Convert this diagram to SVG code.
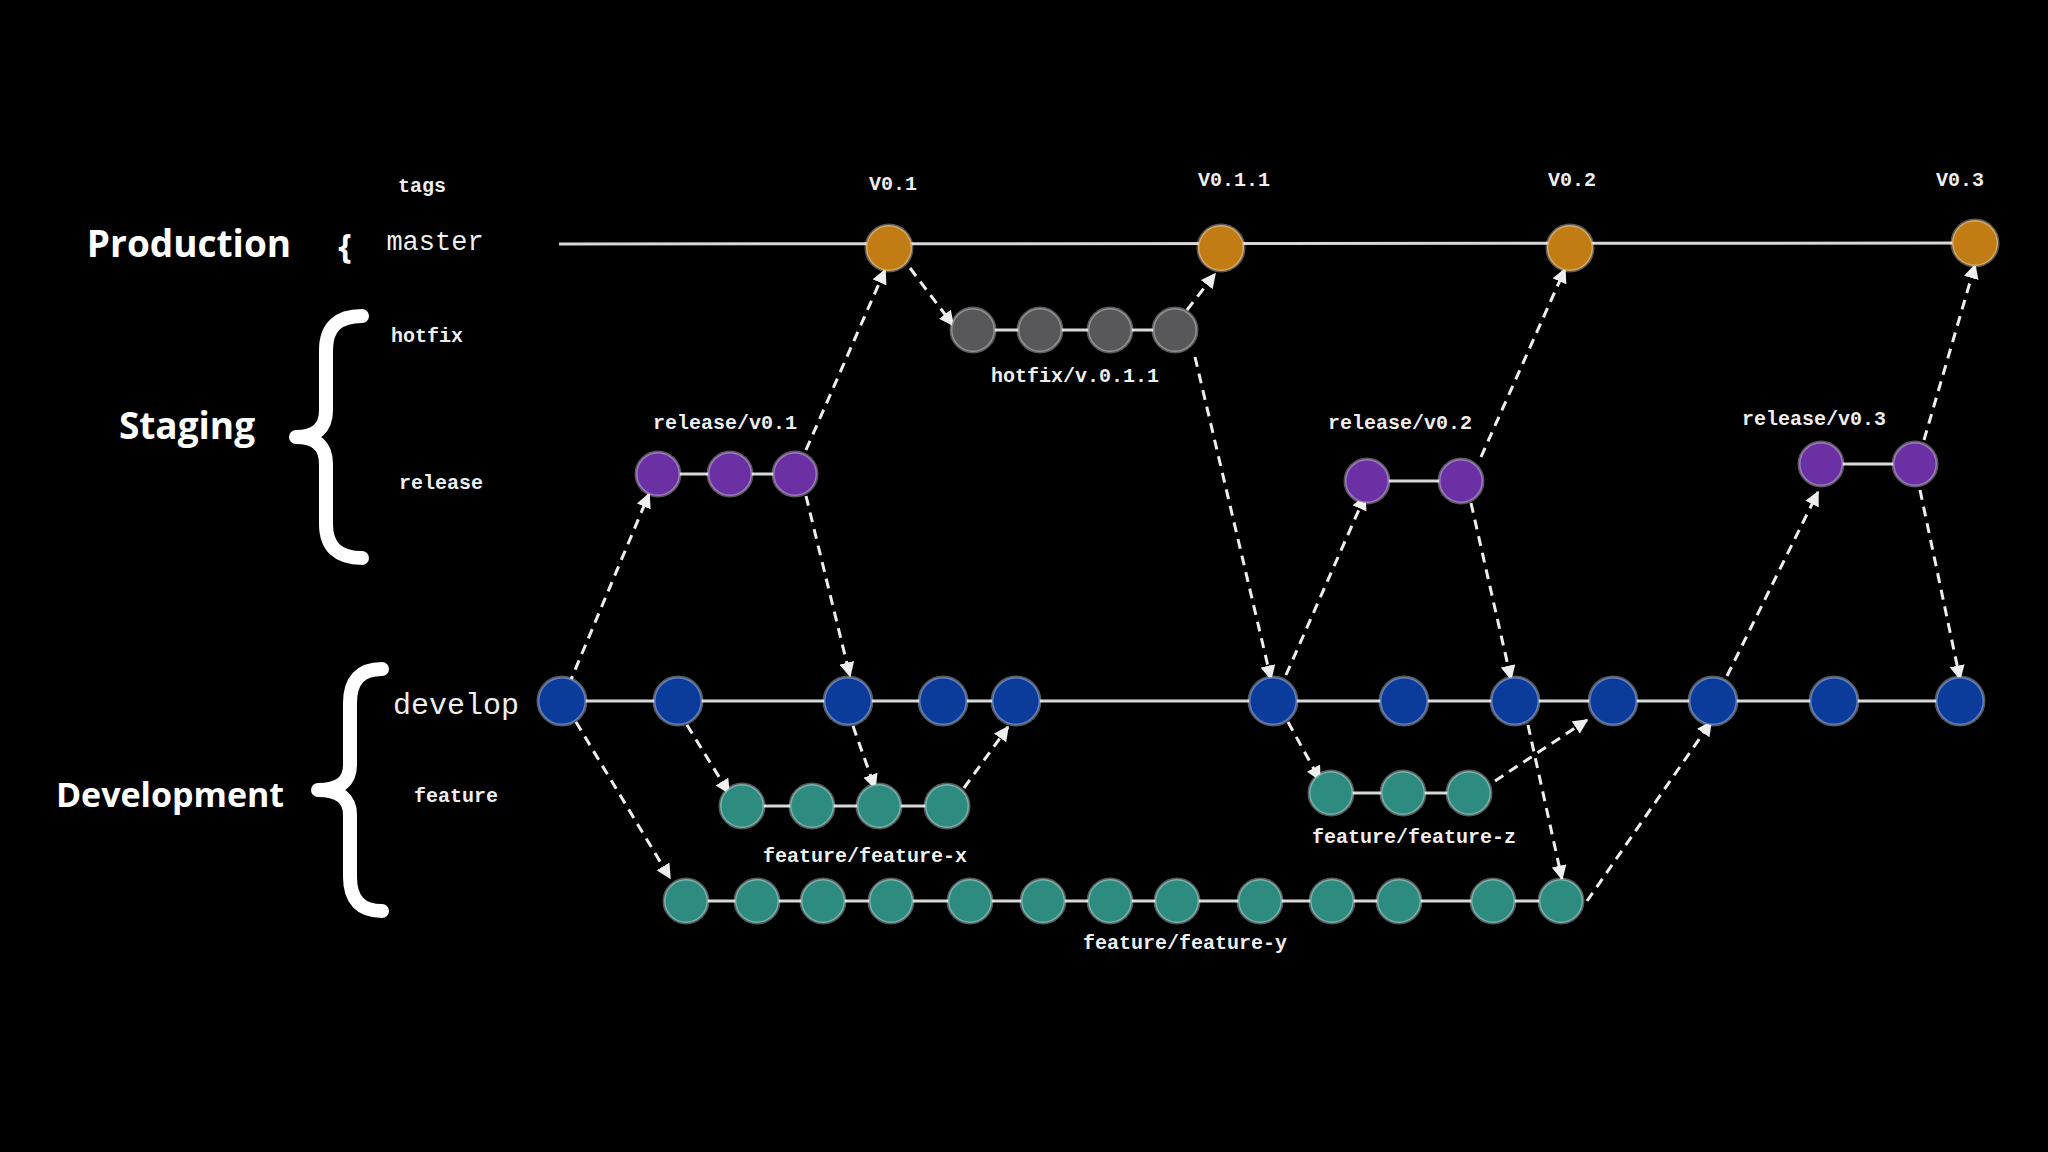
<svg xmlns="http://www.w3.org/2000/svg" width="2048" height="1152" viewBox="0 0 2048 1152">
<defs>
<style>
.bg{fill:#000}
.ln{stroke:#d8d8d8;stroke-width:3;fill:none}
.ar{stroke:#eee;stroke-width:3;stroke-dasharray:10 7;fill:none;marker-end:url(#ah)}
.br{stroke:#fff;stroke-width:14;fill:none;stroke-linecap:round;stroke-linejoin:round}
.m{fill:#c27c14}.h{fill:#58585a}.r{fill:#6b30a3}.d{fill:#0b3c9c}.f{fill:#2e8b80}
.n circle{stroke-width:3;stroke-opacity:.35;stroke:#fff}
.t{font-family:"Liberation Mono",monospace;font-weight:bold;fill:#eee;font-size:20px;text-anchor:middle}
.big{font-family:"Open Sans",sans-serif;font-weight:bold;fill:#fff;font-size:37px;text-anchor:middle}
</style>
<marker id="ah" viewBox="0 0 10 10" refX="9" refY="5" markerWidth="5" markerHeight="5" orient="auto"><path d="M0,0 L10,5 L0,10 z" fill="#eee"/></marker>
</defs>
<rect class="bg" width="2048" height="1152"/>
<g id="labels">
<text class="big" x="189" y="257">Production</text>
<text class="big" x="345" y="258" style="font-size:34px">{</text>
<text class="big" x="187" y="439">Staging</text>
<text class="big" x="170" y="807" style="font-size:34px">Development</text>
<path class="br" d="M362,316 Q326,316 326,350 L326,410 Q326,437 296,437 Q326,437 326,464 L326,524 Q326,558 362,558"/>
<path class="br" d="M382,669 Q350,669 350,703 L350,765 Q350,790 318,790 Q350,790 350,815 L350,877 Q350,911 382,911"/>
<text class="t" x="422" y="192">tags</text>
<text class="t" x="435" y="250" style="font-size:27px;font-weight:normal">master</text>
<text class="t" x="427" y="342">hotfix</text>
<text class="t" x="441" y="489">release</text>
<text class="t" x="456" y="714" style="font-size:30px;font-weight:normal">develop</text>
<text class="t" x="456" y="802">feature</text>
<text class="t" x="893" y="190">V0.1</text>
<text class="t" x="1234" y="186">V0.1.1</text>
<text class="t" x="1572" y="186">V0.2</text>
<text class="t" x="1960" y="186">V0.3</text>
<text class="t" x="1075" y="382">hotfix/v.0.1.1</text>
<text class="t" x="725" y="429">release/v0.1</text>
<text class="t" x="1400" y="429">release/v0.2</text>
<text class="t" x="1814" y="425">release/v0.3</text>
<text class="t" x="865" y="862">feature/feature-x</text>
<text class="t" x="1414" y="843">feature/feature-z</text>
<text class="t" x="1185" y="949">feature/feature-y</text>
</g>
<g id="branches">
<line class="ln" x1="559" y1="244" x2="1975" y2="243"/>
<line class="ln" x1="973" y1="330" x2="1175" y2="330"/>
<line class="ln" x1="658" y1="474" x2="795" y2="474"/>
<line class="ln" x1="1367" y1="481" x2="1461" y2="481"/>
<line class="ln" x1="1821" y1="464" x2="1915" y2="464"/>
<line class="ln" x1="562" y1="701" x2="1960" y2="701"/>
<line class="ln" x1="742" y1="806" x2="947" y2="806"/>
<line class="ln" x1="1331" y1="793" x2="1469" y2="793"/>
<line class="ln" x1="686" y1="901" x2="1561" y2="901"/>
</g>
<g id="connectors">
<line class="ar" x1="562" y1="701" x2="649" y2="494"/>
<line class="ar" x1="806" y1="450" x2="885" y2="270"/>
<line class="ar" x1="910" y1="268" x2="953" y2="325"/>
<line class="ar" x1="1187" y1="310" x2="1215" y2="274"/>
<line class="ar" x1="1195" y1="357" x2="1271" y2="679"/>
<line class="ar" x1="806" y1="496" x2="850" y2="676"/>
<line class="ar" x1="576" y1="722" x2="670" y2="878"/>
<line class="ar" x1="687" y1="725" x2="729" y2="793"/>
<line class="ar" x1="853" y1="726" x2="875" y2="788"/>
<line class="ar" x1="964" y1="788" x2="1008" y2="727"/>
<line class="ar" x1="1286" y1="675" x2="1365" y2="496"/>
<line class="ar" x1="1288" y1="722" x2="1320" y2="780"/>
<line class="ar" x1="1481" y1="457" x2="1565" y2="269"/>
<line class="ar" x1="1471" y1="503" x2="1511" y2="679"/>
<line class="ar" x1="1495" y1="781" x2="1587" y2="720"/>
<line class="ar" x1="1528" y1="725" x2="1562" y2="879"/>
<line class="ar" x1="1587" y1="901" x2="1711" y2="722"/>
<line class="ar" x1="1727" y1="676" x2="1818" y2="492"/>
<line class="ar" x1="1924" y1="440" x2="1975" y2="265"/>
<line class="ar" x1="1920" y1="490" x2="1960" y2="679"/>
</g>
<g id="master" class="n m">
<circle cx="889" cy="248" r="23"/><circle cx="1221" cy="248" r="23"/><circle cx="1570" cy="248" r="23"/><circle cx="1975" cy="243" r="23"/>
</g>
<g id="hotfix" class="n h">
<circle cx="973" cy="330" r="22"/><circle cx="1040" cy="330" r="22"/><circle cx="1110" cy="330" r="22"/><circle cx="1175" cy="330" r="22"/>
</g>
<g id="release" class="n r">
<circle cx="658" cy="474" r="22"/><circle cx="730" cy="474" r="22"/><circle cx="795" cy="474" r="22"/>
<circle cx="1367" cy="481" r="22"/><circle cx="1461" cy="481" r="22"/>
<circle cx="1821" cy="464" r="22"/><circle cx="1915" cy="464" r="22"/>
</g>
<g id="develop" class="n d">
<circle cx="562" cy="701" r="24"/><circle cx="678" cy="701" r="24"/><circle cx="848" cy="701" r="24"/><circle cx="943" cy="701" r="24"/><circle cx="1016" cy="701" r="24"/><circle cx="1273" cy="701" r="24"/><circle cx="1404" cy="701" r="24"/><circle cx="1515" cy="701" r="24"/><circle cx="1613" cy="701" r="24"/><circle cx="1713" cy="701" r="24"/><circle cx="1834" cy="701" r="24"/><circle cx="1960" cy="701" r="24"/>
</g>
<g id="feature" class="n f">
<circle cx="742" cy="806" r="22"/><circle cx="812" cy="806" r="22"/><circle cx="879" cy="806" r="22"/><circle cx="947" cy="806" r="22"/>
<circle cx="1331" cy="793" r="22"/><circle cx="1403" cy="793" r="22"/><circle cx="1469" cy="793" r="22"/>
<circle cx="686" cy="901" r="22"/><circle cx="757" cy="901" r="22"/><circle cx="823" cy="901" r="22"/><circle cx="891" cy="901" r="22"/><circle cx="970" cy="901" r="22"/><circle cx="1043" cy="901" r="22"/><circle cx="1110" cy="901" r="22"/><circle cx="1177" cy="901" r="22"/><circle cx="1260" cy="901" r="22"/><circle cx="1332" cy="901" r="22"/><circle cx="1399" cy="901" r="22"/><circle cx="1493" cy="901" r="22"/><circle cx="1561" cy="901" r="22"/>
</g>
</svg>
